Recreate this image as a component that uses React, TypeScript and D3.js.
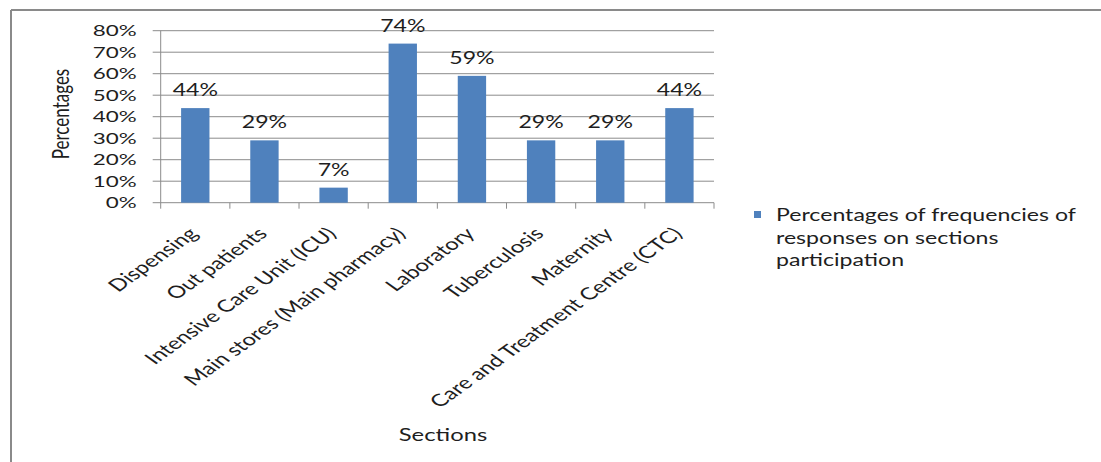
import React from "react";
import * as d3 from "d3";

const categories = [
  "Dispensing",
  "Out patients",
  "Intensive Care Unit (ICU)",
  "Main stores (Main pharmacy)",
  "Laboratory",
  "Tuberculosis",
  "Maternity",
  "Care and Treatment Centre (CTC)",
];
const values = [44, 29, 7, 74, 59, 29, 29, 44];
const yTicks = [0, 10, 20, 30, 40, 50, 60, 70, 80];
const legendLines = ["Percentages of frequencies of", "responses on sections", "participation"];

const W = 1101;
const H = 462;
const SX = 1.4;
const FONT = "Lato, 'Open Sans', sans-serif";
const TXT = "#1e1e1e";

export default function App() {
  const plot = { left: 160.7, right: 714, top: 30.7, bottom: 202.7 };
  const x = d3.scaleBand<string>().domain(categories).range([plot.left, plot.right]).paddingInner(0).paddingOuter(0);
  const y = d3.scaleLinear().domain([0, 80]).range([plot.bottom, plot.top]);
  const bw = x.bandwidth() * 0.41;
  const boundaries = categories.map((c) => x(c)!).concat([plot.right]);

  return (
    <svg width={W} height={H} style={{ position: "absolute", left: 0, top: 0, background: "#fff" }}>
      <rect x={0} y={0} width={W} height={H} fill="#fff" />
      {/* outer frame */}
      <line x1={11} y1={10} x2={W} y2={10} stroke="#8a8a8a" strokeWidth={2} />
      <line x1={11} y1={10} x2={11} y2={H} stroke="#8a8a8a" strokeWidth={2} />

      {/* gridlines */}
      {yTicks.map((t) => (
        <line key={"g" + t} x1={plot.left - 8} x2={plot.right} y1={y(t)} y2={y(t)} stroke="#8c8c8c" strokeWidth={1} />
      ))}
      {/* y axis line */}
      <line x1={plot.left} x2={plot.left} y1={plot.top} y2={plot.bottom} stroke="#8c8c8c" strokeWidth={1} />
      {/* x tick marks */}
      {boundaries.map((b, i) => (
        <line key={"xt" + i} x1={b} x2={b} y1={plot.bottom} y2={plot.bottom + 6} stroke="#8c8c8c" strokeWidth={1} />
      ))}

      {/* y tick labels */}
      {yTicks.map((t) => (
        <text
          key={"yl" + t}
          transform={`translate(${plot.left - 24},${y(t) + 5.5}) scale(${SX},1)`}
          textAnchor="end"
          fontFamily={FONT}
          fontSize={16}
          fill={TXT}
        >
          {t + "%"}
        </text>
      ))}

      {/* bars */}
      {categories.map((c, i) => {
        const cx = x(c)! + x.bandwidth() / 2;
        return (
          <g key={"b" + i}>
            <rect x={cx - bw / 2} y={y(values[i])} width={bw} height={plot.bottom - y(values[i])} fill="#4f81bd" />
            <text
              transform={`translate(${cx},${y(values[i]) - 12}) scale(${SX},1)`}
              textAnchor="middle"
              fontFamily={FONT}
              fontSize={16.5}
              fill={TXT}
            >
              {values[i] + "%"}
            </text>
          </g>
        );
      })}

      {/* category labels */}
      {categories.map((c, i) => {
        const cx = x(c)! + x.bandwidth() / 2;
        return (
          <text
            key={"cl" + i}
            transform={`translate(${cx + 4},${plot.bottom + 32}) scale(${SX},1) rotate(-45)`}
            textAnchor="end"
            fontFamily={FONT}
            fontSize={17}
            fill={TXT}
          >
            {c}
          </text>
        );
      })}

      {/* y axis title */}
      <text
        transform={`translate(${69},${114}) scale(${SX},1) rotate(-90)`}
        textAnchor="middle"
        fontFamily={FONT}
        fontSize={17}
        fill={TXT}
      >
        Percentages
      </text>

      {/* x axis title */}
      <text
        transform={`translate(${443},${441}) scale(${SX},1)`}
        textAnchor="middle"
        fontFamily={FONT}
        fontSize={17}
        fill={TXT}
      >
        Sections
      </text>

      {/* legend */}
      <rect x={754} y={211} width={7} height={7} fill="#4f81bd" />
      {legendLines.map((l, i) => (
        <text
          key={"lg" + i}
          transform={`translate(${776},${221 + i * 22.5}) scale(${SX},1)`}
          fontFamily={FONT}
          fontSize={16.5}
          fill={TXT}
        >
          {l}
        </text>
      ))}
    </svg>
  );
}
